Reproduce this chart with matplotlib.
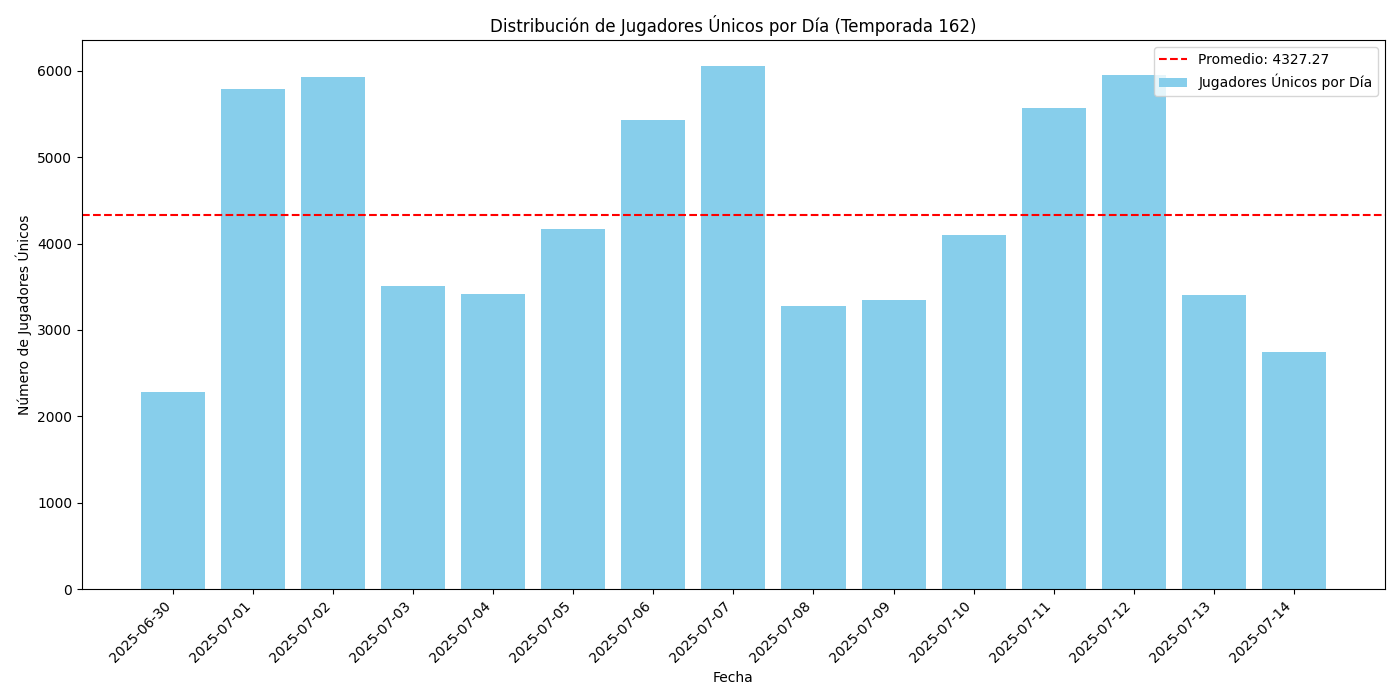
import matplotlib
matplotlib.use("Agg")
import matplotlib.pyplot as plt

fechas = ["2025-06-30", "2025-07-01", "2025-07-02", "2025-07-03", "2025-07-04",
          "2025-07-05", "2025-07-06", "2025-07-07", "2025-07-08", "2025-07-09",
          "2025-07-10", "2025-07-11", "2025-07-12", "2025-07-13", "2025-07-14"]
jugadores = [2280, 5783, 5922, 3506, 3413, 4165, 5425, 6049, 3275, 3344,
             4095, 5564, 5945, 3402, 2741]
promedio = 4327.27

fig, ax = plt.subplots(figsize=(14, 7), dpi=100)
ax.bar(fechas, jugadores, color="skyblue", label="Jugadores Únicos por Día")
ax.axhline(promedio, color="red", linestyle="--", label=f"Promedio: {promedio:.2f}")
ax.set_title("Distribución de Jugadores Únicos por Día (Temporada 162)")
ax.set_xlabel("Fecha")
ax.set_ylabel("Número de Jugadores Únicos")
plt.xticks(rotation=45, ha="right")
ax.legend(loc="upper right")
plt.tight_layout()
plt.savefig("out.png")
